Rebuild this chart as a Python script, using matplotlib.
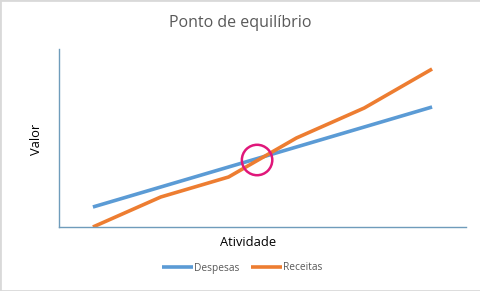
import matplotlib
matplotlib.use('Agg')
from matplotlib import pyplot as plt
from matplotlib.patches import Rectangle

# Data
atividade = [1, 2, 3, 4, 5, 6]
despesas = [10, 20, 30, 40, 50, 60]
receitas = [0, 15, 25, 44.5, 59.5, 79]
equilibrio = (3.42, 33.5)

plt.rcParams['font.family'] = ['Open Sans', 'DejaVu Sans']

fig = plt.figure(figsize=(4.81, 2.91), dpi=100)
ax = fig.add_axes([59/481, 64/291, 407/481, 178/291])

ax.plot(atividade, despesas, c='#5B9BD5', lw=2.6, label='Despesas', solid_capstyle='butt')
ax.plot(atividade, receitas, c='#ED7D31', lw=2.6, label='Receitas', solid_capstyle='butt')
ax.scatter([equilibrio[0]], [equilibrio[1]], s=480, facecolors='none',
           edgecolors='#E0177A', linewidths=1.8, zorder=5)

ax.set_xlim(0.5, 6.5)
ax.set_ylim(0, 89)
ax.set_xticks([])
ax.set_yticks([])
for side in ['top', 'right']:
    ax.spines[side].set_visible(False)
for side in ['left', 'bottom']:
    ax.spines[side].set_color('#6F9CBB')
    ax.spines[side].set_linewidth(1)

fig.text(0.5, 1 - 23/291, 'Ponto de equilíbrio', ha='center', va='center',
         fontsize=11.5, color='#595959')
fig.text(37/481, 1 - 139/291, 'Valor', ha='center', va='center',
         rotation=90, fontsize=9.3, color='black')
fig.text(248/481, 1 - 243/291, 'Atividade', ha='center', va='center',
         fontsize=9.3, color='black')

leg = fig.legend(loc='center', bbox_to_anchor=(242/481, 1 - 268/291), ncol=2,
                 frameon=False, fontsize=7.3, handlelength=3.0, handletextpad=0.1,
                 columnspacing=1.2)
for t in leg.get_texts():
    t.set_color('#595959')

fig.patches.append(Rectangle((0, 0), 1, 1, transform=fig.transFigure, fill=False,
                             edgecolor='#D9D9D9', lw=2))

fig.savefig('out.png', dpi=100)
